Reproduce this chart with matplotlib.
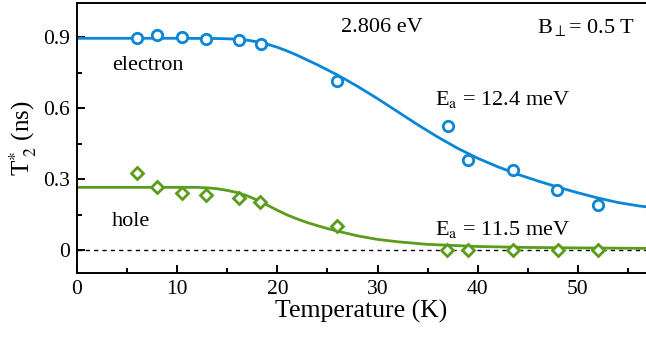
import numpy as np
import matplotlib
matplotlib.use("Agg")
import matplotlib.pyplot as plt
from matplotlib.ticker import MultipleLocator

plt.rcParams["font.family"] = ["Liberation Serif", "DejaVu Serif"]
plt.rcParams["mathtext.fontset"] = "stix"

# measured points
elec_T = [6.0, 8.0, 10.5, 12.9, 16.2, 18.4, 26.0, 37.0, 39.0, 43.5, 47.9, 52.0]
elec_t2 = [0.898, 0.907, 0.902, 0.893, 0.886, 0.871, 0.715, 0.524, 0.380, 0.338, 0.255, 0.190]
hole_T = [6.0, 8.0, 10.45, 12.9, 16.2, 18.3, 26.0, 36.9, 39.0, 43.5, 48.0, 52.0]
hole_t2 = [0.324, 0.265, 0.240, 0.234, 0.218, 0.203, 0.101, 0.0, 0.0, 0.0, 0.0, 0.0]

# fit curves
elec_fit_T = [0, 10, 14, 15, 16, 17, 18, 19, 20, 21, 22, 24, 26, 28, 30, 32, 34,
              36, 38, 40, 42, 44, 46, 48, 50, 52, 54, 56, 56.8]
elec_fit = [0.895, 0.895, 0.894, 0.893, 0.891, 0.887, 0.880, 0.870, 0.857,
            0.841, 0.823, 0.783, 0.740, 0.692, 0.640, 0.585, 0.530, 0.478,
            0.430, 0.388, 0.352, 0.320, 0.292, 0.266, 0.242, 0.220, 0.201,
            0.187, 0.183]
hole_fit_T = [0, 12, 13, 14, 15, 16, 17, 18, 19, 20, 21, 22, 23, 24, 25, 26,
              28, 30, 32, 35, 40, 45, 50, 56.8]
hole_fit = [0.265, 0.265, 0.263, 0.259, 0.252, 0.243, 0.229, 0.211, 0.190,
            0.168, 0.148, 0.131, 0.116, 0.103, 0.091, 0.080, 0.060, 0.045,
            0.035, 0.024, 0.015, 0.011, 0.009, 0.007]

blue = "#0a86d6"
green = "#5a9c1c"

fig = plt.figure(figsize=(6.46, 3.39), dpi=100)
ax = fig.add_axes([0.1192, 0.1947, 0.8808, 0.7963])

ax.axhline(0, color="black", lw=1.0, ls=(0, (3, 3)), zorder=1)

ax.plot(elec_fit_T, elec_fit, color=blue, lw=2.0, zorder=2)
ax.plot(hole_fit_T, hole_fit, color=green, lw=2.0, zorder=2)
ax.plot(elec_T, elec_t2, "o", ms=7.5, mfc="white", mec=blue, mew=2.0, zorder=3)
ax.plot(hole_T, hole_t2, "D", ms=6, mfc="white", mec=green, mew=2.0, zorder=3)

ax.set_xlim(0, 56.8)
ax.set_ylim(-0.097, 1.044)
ax.xaxis.set_major_locator(MultipleLocator(10))
ax.xaxis.set_minor_locator(MultipleLocator(5))
ax.yaxis.set_minor_locator(MultipleLocator(0.15))
ax.set_yticks([0, 0.3, 0.6, 0.9])
ax.set_yticklabels(["0", "0.3", "0.6", "0.9"])

ax.tick_params(which="both", direction="in", labelsize=15.5, width=1.4,
               top=False, right=False)
ax.tick_params(which="major", length=6, pad=5)
ax.tick_params(which="minor", length=3.5)
for side in ["left", "bottom", "top"]:
    ax.spines[side].set_linewidth(1.4)
ax.spines["right"].set_visible(False)

ax.set_xlabel("Temperature (K)", fontsize=18.5, labelpad=1)
ax.set_ylabel(r"T$^{*}_{\ 2}$ (ns)", fontsize=18, labelpad=3)

fs = 16
ax.text(3.5, 0.782, "electron", fontsize=fs, va="center")
ax.text(3.5, 0.122, "hole", fontsize=fs, va="center")
ax.text(26.4, 0.942, "2.806 eV", fontsize=fs, va="center")
ax.text(55.7, 0.942, r"B$_{\perp}$= 0.5 T", fontsize=fs, va="center", ha="right")
ax.text(35.7, 0.613, r"E$_{\rm a}$ = 12.4 meV", fontsize=fs, va="baseline")
ax.text(35.7, 0.063, r"E$_{\rm a}$ = 11.5 meV", fontsize=fs, va="baseline")

fig.savefig("out.png", dpi=100)
